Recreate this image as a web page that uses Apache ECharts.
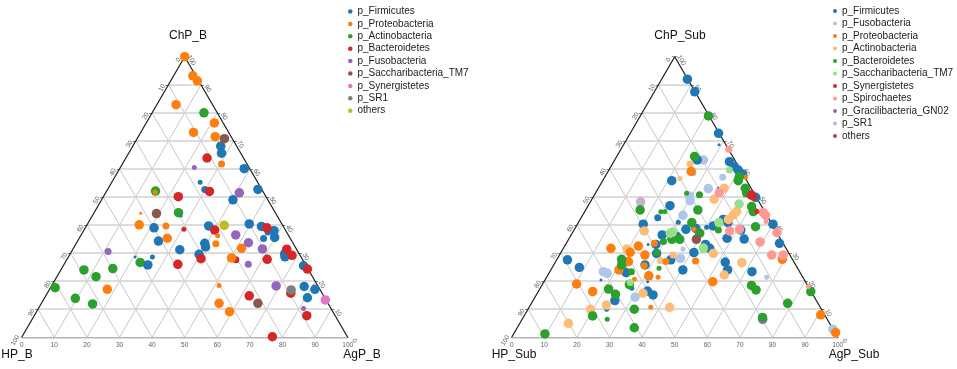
<!DOCTYPE html>
<html><head><meta charset="utf-8">
<script src="https://cdn.jsdelivr.net/npm/echarts@6/dist/echarts.min.js"></script>
<style>html,body{margin:0;padding:0;background:#fff}#c{width:957px;height:369px}</style>
</head><body><div id="c"></div>
<script>
// ---------- DATA: each point = [ChP %, AgP %, abundance level 1..4]; HP % = 100 - ChP - AgP ----------
const ticks = [0,10,20,30,40,50,60,70,80,90,100];
const gridSteps = [10,20,30,40,50,60,70,80,90];

const leftNames = ["p_Firmicutes","p_Proteobacteria","p_Actinobacteria","p_Bacteroidetes","p_Fusobacteria","p_Saccharibacteria_TM7","p_Synergistetes","p_SR1","others"];
const leftColors = ["#1f77b4","#ff7f0e","#2ca02c","#d62728","#9467bd","#8c564b","#e377c2","#7f7f7f","#bcbd22"];

const B_Firmicutes = [[68.1,27.0,4],[65.6,28.5,4],[60.1,38.2,4],[55.3,27.1,2],[52.7,29.8,3],[52.7,46.1,4],[49.0,40.3,4],[39.0,21.1,4],[34.3,24.8,4],[31.2,32.9,4],[39.7,37.5,4],[40.4,49.6,4],[39.5,53.8,4],[33.5,39.4,4],[32.2,40.3,4],[29.6,39.6,4],[38.0,58.4,4],[37.5,56.8,3],[35.2,56.6,3],[35.6,59.8,4],[29.7,65.8,4],[28.7,66.4,4],[25.8,25.8,4],[28.6,25.8,2],[28.6,20.5,1],[43.2,27.3,1],[25.5,73.7,4],[18.1,77.6,4],[17.1,81.4,4],[14.1,80.6,4]];
const B_Proteobacteria = [[100,0,4],[93.2,5.9,4],[91.4,8.2,4],[82.9,5.9,4],[76.4,20.9,4],[73.0,16.2,4],[71.5,23.6,4],[61.8,30.4,3],[51.7,15.1,2],[44.2,14.4,1],[40.1,16.0,4],[39.7,24.4,3],[35.3,27.0,4],[36.2,42.0,2],[33.3,42.9,3],[40.6,41.4,2],[31.7,51.6,4],[28.3,50.2,4],[17.1,17.7,4],[18.5,51.3,2],[12.1,54.5,4],[9.1,59.2,4]];
const B_Actinobacteria = [[80.0,15.9,4],[52.1,15.0,4],[44.4,25.9,4],[24.5,15.7,4],[26.7,23.0,4],[24.0,7.1,4],[21.6,12.0,4],[17.7,1.4,4],[13.9,9.5,4],[11.9,15.8,4]];
const B_Bacteroidetes = [[63.9,24.9,4],[52.0,31.6,4],[50.1,23.0,4],[38.5,30.5,2],[38.2,40.1,4],[39.0,55.7,4],[26.0,34.9,4],[28.0,41.0,4],[27.6,51.9,3],[27.8,61.4,4],[31.4,65.6,4],[29.2,68.3,4],[24.3,75.5,4],[14.8,62.4,4],[15.7,74.7,4],[7.7,83.6,4],[0.2,76.8,4]];
const B_Fusobacteria = [[60.5,22.7,2],[51.5,41.0,4],[30.6,11.2,3],[36.5,47.4,4],[33.7,52.7,4],[31.5,58.1,4],[26.0,56.5,3],[18.3,68.9,4],[10.3,81.3,2]];
const B_Saccharibacteria = [[70.8,26.8,4],[44.1,19.3,4],[12.1,66.4,4]];
const B_Synergistetes = [[13.3,86.5,4]];
const B_SR1 = [[16.9,74.2,4]];
const B_others = [[39.9,42.2,4]];

const rightNames = ["p_Firmicutes","p_Fusobacteria","p_Proteobacteria","p_Actinobacteria","p_Bacteroidetes","p_Saccharibacteria_TM7","p_Synergistetes","p_Spirochaetes","p_Gracilibacteria_GN02","p_SR1","others"];
const rightColors = ["#1f77b4","#aec7e8","#ff7f0e","#ffbb78","#2ca02c","#98df8a","#d62728","#ff9896","#9467bd","#c5b0d5","#8c564b"];

const S_Firmicutes = [[92.0,7.9,4],[87.5,12.4,4],[72.7,27.1,4],[68.6,29.3,1],[62.6,35.5,4],[60.8,37.9,4],[59.6,39.7,4],[58.2,41.7,4],[49.9,49.9,4],[44.8,52.0,3],[42.0,43.9,4],[40.9,45.9,4],[40.3,60.0,4],[35.3,48.4,4],[35.0,53.8,4],[33.5,65.4,4],[26.8,52.1,4],[24.0,54.2,4],[23.4,62.0,4],[55.8,21.2,4],[46.9,25.1,4],[42.6,23.5,3],[41.0,30.6,2],[40.3,20.2,4],[38.5,34.2,4],[39.7,42.0,4],[36.5,27.9,4],[33.1,42.9,4],[31.7,44.9,4],[29.9,29.5,4],[27.6,35.0,4],[24.0,40.5,4],[27.6,3.3,4],[24.9,8.3,4],[25.8,28.0,4],[23.0,23.6,4],[13.1,25.1,4],[15.1,35.8,4],[10.0,24.1,2],[19.8,31.8,1],[33.1,25.3,1],[20.4,17.2,1],[17.5,28.1,2],[53.1,36.8,1],[63.2,25.3,4],[38.8,37.1,4],[39.2,40.2,2],[35.9,32.7,4],[16.5,33.4,4],[33.1,27.7,4],[30.2,40.8,4],[38.2,51.2,4]];
const S_Fusobacteria = [[63.2,27.2,4],[57.0,36.2,3],[53.0,33.8,4],[50.4,29.3,4],[48.7,30.4,4],[43.5,30.8,4],[58.4,26.7,2],[36.5,31.6,3],[31.5,36.8,2],[28.1,37.7,4],[23.4,16.4,4],[22.8,17.9,4],[14.3,30.7,4],[21.4,67.5,2],[2.9,97.1,4],[23.4,23.1,4]];
const S_Proteobacteria = [[59.1,25.5,4],[57.0,43.2,2],[38.5,36.7,2],[33.5,27.0,3],[31.7,14.6,4],[30.3,21.2,4],[29.3,26.2,4],[26.4,21.1,4],[27.0,22.3,4],[24.0,20.9,4],[25.5,27.9,3],[21.9,31.1,4],[21.4,34.2,2],[27.0,33.8,3],[27.2,42.8,3],[20.7,27.3,2],[19.0,10.4,4],[16.3,16.7,4],[10.7,37.3,2],[19.8,51.8,4],[27.8,69.1,4],[8.0,90.8,4],[1.7,98.5,4],[32.5,22.6,4],[36.8,39.9,2]];
const S_Actinobacteria = [[61.8,23.8,3],[56.6,23.3,2],[53.1,38.6,4],[49.2,37.5,4],[43.6,46.2,4],[44.8,46.6,4],[42.0,45.5,4],[37.9,21.7,4],[31.5,19.6,4],[27.3,32.0,3],[26.6,57.3,4],[22.2,54.1,4],[15.7,32.4,4],[10.0,19.2,4],[11.5,23.3,4],[10.7,43.1,4],[5.0,14.9,4],[29.3,34.9,3],[29.9,46.9,4]];
const S_Bacteroidetes = [[78.9,20.9,4],[57.2,41.2,4],[55.8,41.6,4],[53.1,45.1,4],[51.5,46.3,4],[46.6,50.3,4],[44.8,51.7,4],[64.4,23.9,4],[50.8,32.2,3],[51.3,28.0,2],[45.4,16.7,4],[44.7,23.4,2],[44.8,24.6,2],[45.4,34.4,4],[40.9,34.8,4],[39.4,55.1,4],[38.2,44.3,3],[34.9,31.7,4],[34.9,34.1,4],[34.1,29.5,3],[37.1,39.1,4],[30.2,29.4,3],[27.8,19.8,4],[25.8,20.8,4],[23.4,25.0,3],[24.6,32.9,2],[18.8,26.7,4],[17.2,21.1,4],[15.3,24.2,4],[10.0,32.6,4],[7.6,21.0,4],[6.4,26.1,2],[3.4,35.9,4],[1.2,9.6,4],[18.5,64.3,4],[16.9,66.5,4],[12.1,78.6,4],[16.3,83.6,4],[7.1,73.4,4]];
const S_Saccharibacteria = [[59.6,37.0,3],[47.5,46.0,4],[40.9,43.1,4],[37.1,30.1,4],[37.5,30.6,4],[31.8,42.9,4],[19.5,26.6,3]];
const S_Synergistetes = [[50.7,48.2,4],[49.9,49.2,3],[44.8,52.8,2]];
const S_Spirochaetes = [[67.0,33.1,3],[51.5,37.9,4],[44.4,55.0,4],[43.5,56.1,4],[41.3,57.4,2],[37.3,62.7,4],[37.9,47.9,4],[38.5,50.6,4],[34.0,59.2,4],[29.3,65.1,4],[29.3,68.6,4],[18.1,82.0,2]];
const S_Gracilibacteria = [[6.4,73.8,4]];
const S_SR1 = [[48.3,15.4,4]];
const S_others = [[34.9,39.2,4]];

// ---------- rendering ----------
const SQ = Math.sqrt(3) / 2;
const tern = (c, a) => [a + c / 2, c * SQ];
const sizeOf = lv => [0, 3, 5, 7, 9.5][lv];
const FONT = '"Liberation Sans", Arial, sans-serif';

function frameSeries(g) {
  const hor = [], diag = [];
  gridSteps.forEach(v => {
    hor.push({coords: [tern(v, 0), tern(v, 100 - v)]});
    diag.push({coords: [tern(0, v), tern(100 - v, v)]});
    diag.push({coords: [tern(0, 100 - v), tern(100 - v, 0)]});
  });
  const tk = [];
  ticks.forEach(t => {
    const p = tern(0, t); tk.push({coords: [p, [p[0], p[1] - 0.9]]});
    const l = tern(100 - t, 0); tk.push({coords: [l, [l[0] - 0.9, l[1]]]});
    const r = tern(t, 100 - t); tk.push({coords: [r, [r[0] + 0.9, r[1]]]});
  });
  const base = {type: 'lines', coordinateSystem: 'cartesian2d', xAxisIndex: g, yAxisIndex: g, silent: true, z: 1, animation: false};
  return [
    Object.assign({}, base, {data: diag, lineStyle: {color: '#c8c8c8', width: 1, opacity: 1}}),
    Object.assign({}, base, {data: hor, lineStyle: {color: '#d2d2d2', width: 1.6, opacity: 1}}),
    Object.assign({}, base, {data: tk, lineStyle: {color: '#555', width: 0.8, opacity: 1}}),
    Object.assign({}, base, {data: [{coords: [tern(0, 0), tern(0, 100)]}], lineStyle: {color: '#b5b5b5', width: 2.2, opacity: 1}}),
    Object.assign({}, base, {data: [{coords: [tern(0, 0), tern(100, 0)]}, {coords: [tern(100, 0), tern(0, 100)]}], lineStyle: {color: '#1a1a1a', width: 1.2, opacity: 1}})
  ];
}

function tickLabelSeries(g) {
  const lab = {fontSize: 6.5, color: '#333', fontFamily: FONT};
  const base = {type: 'scatter', xAxisIndex: g, yAxisIndex: g, symbolSize: 0, silent: true, z: 2, animation: false};
  return [
    Object.assign({}, base, {data: ticks.map(t => ({value: tern(0, t), name: String(t)})),
      label: Object.assign({show: true, formatter: p => p.name, position: 'inside', offset: [0, 8]}, lab)}),
    Object.assign({}, base, {data: ticks.map(t => ({value: tern(100 - t, 0), name: String(t)})),
      label: Object.assign({show: true, formatter: p => p.name, position: 'inside', offset: [-6, -4], rotate: 60}, lab)}),
    Object.assign({}, base, {data: ticks.map(t => ({value: tern(t, 100 - t), name: String(t)})),
      label: Object.assign({show: true, formatter: p => p.name, position: 'inside', offset: [6.5, -4], rotate: -60}, lab)})
  ];
}

function pointSeries(g, name, color, arr, z) {
  return {type: 'scatter', name: name, xAxisIndex: g, yAxisIndex: g, z: z, animation: false,
    data: arr.map(d => [tern(d[0], d[1])[0], tern(d[0], d[1])[1], d[2]]),
    symbolSize: v => sizeOf(v[2]), itemStyle: {color: color, opacity: 1}};
}

const Lc = n => leftColors[leftNames.indexOf(n)];
const Rc = n => rightColors[rightNames.indexOf(n)];
const R = n => n + '#R';

const series = [].concat(
  frameSeries(0), frameSeries(1), tickLabelSeries(0), tickLabelSeries(1),
  [
    pointSeries(0, 'p_Actinobacteria', Lc('p_Actinobacteria'), B_Actinobacteria, 3),
    pointSeries(0, 'p_Firmicutes', Lc('p_Firmicutes'), B_Firmicutes, 3),
    pointSeries(0, 'p_Bacteroidetes', Lc('p_Bacteroidetes'), B_Bacteroidetes, 3),
    pointSeries(0, 'p_Proteobacteria', Lc('p_Proteobacteria'), B_Proteobacteria, 3),
    pointSeries(0, 'p_Fusobacteria', Lc('p_Fusobacteria'), B_Fusobacteria, 3),
    pointSeries(0, 'p_Saccharibacteria_TM7', Lc('p_Saccharibacteria_TM7'), B_Saccharibacteria, 3),
    pointSeries(0, 'p_Synergistetes', Lc('p_Synergistetes'), B_Synergistetes, 3),
    pointSeries(0, 'p_SR1', Lc('p_SR1'), B_SR1, 3),
    pointSeries(0, 'others', Lc('others'), B_others, 3),

    pointSeries(1, R('p_Gracilibacteria_GN02'), Rc('p_Gracilibacteria_GN02'), S_Gracilibacteria, 3),
    pointSeries(1, R('p_Fusobacteria'), Rc('p_Fusobacteria'), S_Fusobacteria, 3),
    pointSeries(1, R('p_SR1'), Rc('p_SR1'), S_SR1, 3),
    pointSeries(1, R('p_Firmicutes'), Rc('p_Firmicutes'), S_Firmicutes, 3),
    pointSeries(1, R('p_Actinobacteria'), Rc('p_Actinobacteria'), S_Actinobacteria, 3),
    pointSeries(1, R('p_Proteobacteria'), Rc('p_Proteobacteria'), S_Proteobacteria, 3),
    pointSeries(1, R('p_Bacteroidetes'), Rc('p_Bacteroidetes'), S_Bacteroidetes, 3),
    pointSeries(1, R('p_Saccharibacteria_TM7'), Rc('p_Saccharibacteria_TM7'), S_Saccharibacteria, 3),
    pointSeries(1, R('p_Spirochaetes'), Rc('p_Spirochaetes'), S_Spirochaetes, 3),
    pointSeries(1, R('p_Synergistetes'), Rc('p_Synergistetes'), S_Synergistetes, 3),
    pointSeries(1, R('others'), Rc('others'), S_others, 3)
  ]
);

const axisX = idx => ({type: 'value', gridIndex: idx, min: 0, max: 100, show: false});
const axisY = idx => ({type: 'value', gridIndex: idx, min: 0, max: 100 * SQ, show: false});

const chart = echarts.init(document.getElementById('c'), null, {renderer: 'canvas'});
chart.setOption({
  animation: false,
  backgroundColor: '#fff',
  grid: [
    {left: 21.7, top: 56.7, width: 326, height: 280.6},
    {left: 511.7, top: 56.7, width: 326, height: 280.6}
  ],
  xAxis: [axisX(0), axisX(1)],
  yAxis: [axisY(0), axisY(1)],
  legend: [
    {orient: 'vertical', left: 343, top: 1.5, itemWidth: 4.5, itemHeight: 4.5, itemGap: 2.4, icon: 'circle', selectedMode: false,
     data: leftNames, textStyle: {fontSize: 10, color: '#222', fontFamily: FONT}},
    {orient: 'vertical', left: 828, top: 1, itemWidth: 4, itemHeight: 4, itemGap: 2.5, icon: 'circle', selectedMode: false,
     data: rightNames.map(R), formatter: n => n.replace('#R', ''), textStyle: {fontSize: 10, color: '#222', fontFamily: FONT}}
  ],
  graphic: [
    {type: 'text', x: 188, y: 36, style: {text: 'ChP_B', fontSize: 12, fontFamily: FONT, fill: '#111', align: 'center', verticalAlign: 'middle'}},
    {type: 'text', x: 17, y: 355, style: {text: 'HP_B', fontSize: 12, fontFamily: FONT, fill: '#111', align: 'center', verticalAlign: 'middle'}},
    {type: 'text', x: 362, y: 355, style: {text: 'AgP_B', fontSize: 12, fontFamily: FONT, fill: '#111', align: 'center', verticalAlign: 'middle'}},
    {type: 'text', x: 680, y: 36, style: {text: 'ChP_Sub', fontSize: 12, fontFamily: FONT, fill: '#111', align: 'center', verticalAlign: 'middle'}},
    {type: 'text', x: 514, y: 355, style: {text: 'HP_Sub', fontSize: 12, fontFamily: FONT, fill: '#111', align: 'center', verticalAlign: 'middle'}},
    {type: 'text', x: 854, y: 355, style: {text: 'AgP_Sub', fontSize: 12, fontFamily: FONT, fill: '#111', align: 'center', verticalAlign: 'middle'}}
  ],
  series: series
});
</script></body></html>
